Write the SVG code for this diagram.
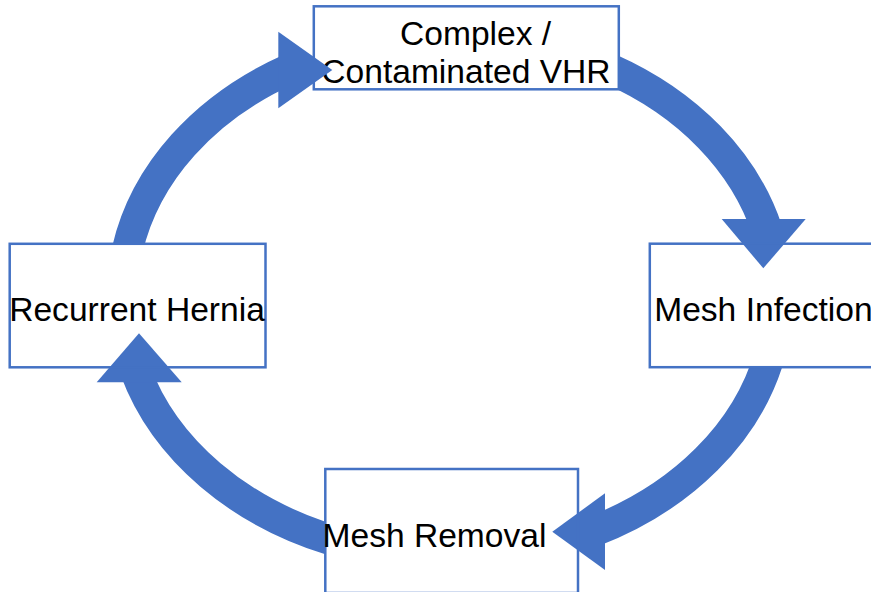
<svg xmlns="http://www.w3.org/2000/svg" width="871" height="592" viewBox="0 0 871 592">
  <style>
    .box { stroke: #4472C4; stroke-width: 2.5; }
    .label { font-family: "Liberation Sans", Arial, sans-serif; font-size: 33.6px; fill: #000000; }
    .shaft { fill: none; stroke: #4472C4; stroke-width: 31; stroke-linecap: butt; }
    .head { fill: #4472C4; }
  </style>
  <defs>
    <!-- keeps the arc shafts out of the node boxes they start from -->
    <clipPath id="outsideNodes">
      <path clip-rule="evenodd" d="M-10 -10H900V610H-10Z M9.7 243.8H265.5V367.3H9.7Z M649.8 243.7H905.6V367.2H649.8Z M325.3 469H578V610H325.3Z M313.8 6.3H618.8V89.3H313.8Z"/>
    </clipPath>
  </defs>

  <rect width="871" height="592" fill="#FFFFFF"/>

  <!-- top node sits beneath the incoming arrowhead -->
  <g id="node-complex">
    <rect class="box" x="313.8" y="6.3" width="305" height="83" fill="#FFFFFF"/>
    <text class="label" x="400" y="45">Complex /</text>
    <text class="label" x="321.3" y="83.3">Contaminated VHR</text>
  </g>

  <g id="connectors">
    <g clip-path="url(#outsideNodes)">
      <path class="shaft" d="M127.3 250 A328 261 0 0 1 290 68.9"/>
      <path class="shaft" d="M610 68.9 A328 261 0 0 1 767.4 231"/>
      <path class="shaft" d="M769.7 355 A328 261 0 0 1 593 531.6"/>
      <path class="shaft" d="M337 541.7 A328 261 0 0 1 135.2 370"/>
    </g>
    <polygon class="head" points="278.3,31.7 332.3,70 278.3,108.3"/>
    <polygon class="head" points="721.7,219 805.7,219 763.3,268.3"/>
    <polygon class="head" points="605,493.3 552.3,531.7 605,570"/>
    <polygon class="head" points="96.7,382.3 139,333.3 181.7,382.3"/>
  </g>

  <g id="node-infection">
    <rect class="box" x="649.8" y="243.7" width="255.8" height="123.5" fill="none"/>
    <text class="label" x="654.2" y="320.7">Mesh Infection</text>
  </g>

  <g id="node-removal">
    <rect class="box" x="325.3" y="469" width="252.7" height="124" fill="none"/>
    <text class="label" x="322.5" y="546.7">Mesh Removal</text>
  </g>

  <g id="node-recurrent">
    <rect class="box" x="9.7" y="243.8" width="255.8" height="123.5" fill="none"/>
    <text class="label" x="9.2" y="320.7">Recurrent Hernia</text>
  </g>
</svg>
